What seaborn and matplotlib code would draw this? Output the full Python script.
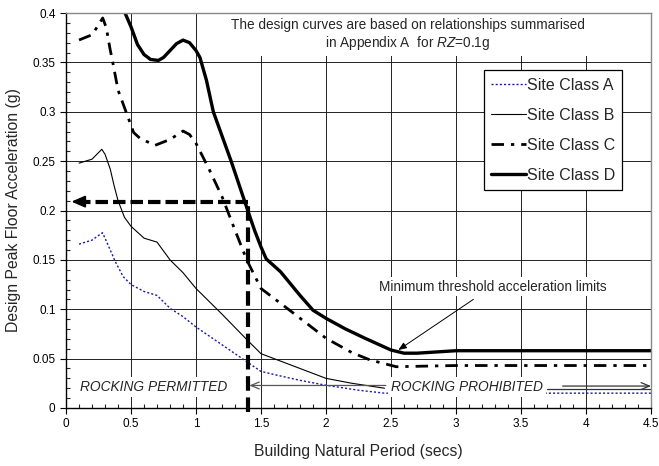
import matplotlib
matplotlib.use('Agg')
import matplotlib.pyplot as plt
from matplotlib.patches import Rectangle
from matplotlib.ticker import MultipleLocator
import seaborn as sns

# Site class design curves
period_A = [0.1, 0.2, 0.28, 0.3, 0.34, 0.38, 0.44, 0.5, 0.6, 0.7, 0.8, 0.9, 1.0, 1.2, 1.4, 1.5, 1.63, 1.8, 2.0, 2.25, 2.45, 3.0, 3.5, 4.0, 4.5]
accel_A = [0.166, 0.170, 0.1775, 0.172, 0.160, 0.148, 0.133, 0.125, 0.118, 0.114, 0.101, 0.0925, 0.082, 0.064, 0.046, 0.037, 0.033, 0.028, 0.023, 0.018, 0.015, 0.015, 0.015, 0.015, 0.015]

period_B = [0.1, 0.2, 0.275, 0.3, 0.34, 0.37, 0.4, 0.45, 0.5, 0.6, 0.7, 0.8, 0.9, 1.0, 1.2, 1.4, 1.5, 1.6, 1.8, 2.0, 2.2, 2.45]
accel_B = [0.248, 0.252, 0.262, 0.257, 0.242, 0.225, 0.210, 0.193, 0.184, 0.172, 0.168, 0.150, 0.137, 0.121, 0.095, 0.068, 0.055, 0.050, 0.040, 0.030, 0.025, 0.020]

period_C = [0.1, 0.2, 0.25, 0.282, 0.31, 0.338, 0.364, 0.4, 0.467, 0.52, 0.57, 0.685, 0.8, 0.9, 0.95, 1.0, 1.1, 1.2, 1.3, 1.39, 1.5, 1.6, 1.72, 2.0, 2.2, 2.34, 2.54, 2.8, 3.0, 4.5]
accel_C = [0.3727, 0.378, 0.388, 0.395, 0.385, 0.364, 0.347, 0.322, 0.298, 0.279, 0.273, 0.266, 0.272, 0.2805, 0.277, 0.268, 0.242, 0.214, 0.180, 0.150, 0.121, 0.111, 0.099, 0.0706, 0.056, 0.0486, 0.0418, 0.0425, 0.043, 0.043]

period_D = [0.454, 0.5, 0.55, 0.6, 0.65, 0.71, 0.75, 0.8, 0.85, 0.9, 0.95, 1.0, 1.03, 1.08, 1.133, 1.27, 1.38, 1.45, 1.5, 1.54, 1.65, 1.8, 1.9, 2.0, 2.15, 2.3, 2.5, 2.6, 2.7, 3.0, 4.5]
accel_D = [0.4, 0.386, 0.368, 0.358, 0.353, 0.352, 0.355, 0.362, 0.369, 0.3726, 0.370, 0.362, 0.355, 0.332, 0.300, 0.250, 0.207, 0.180, 0.163, 0.151, 0.138, 0.114, 0.099, 0.0908, 0.080, 0.0706, 0.0587, 0.0555, 0.0555, 0.058, 0.058]

# worked example: period 1.4 s -> 0.21 g
example_period = 1.4
example_accel = 0.209

x_ticks = [0, 0.5, 1, 1.5, 2, 2.5, 3, 3.5, 4, 4.5]
x_labels = ['0', '0.5', '1', '1.5', '2', '2.5', '3', '3.5', '4', '4.5']
y_ticks = [0, 0.05, 0.1, 0.15, 0.2, 0.25, 0.3, 0.35, 0.4]
y_labels = ['0', '0.05', '0.1', '0.15', '0.2', '0.25', '0.3', '0.35', '0.4']

sns.set_style('white')
plt.rcParams['font.family'] = ['Liberation Sans', 'DejaVu Sans']
plt.rcParams['mathtext.fontset'] = 'custom'
plt.rcParams['mathtext.rm'] = 'Liberation Sans'
plt.rcParams['mathtext.it'] = 'Liberation Sans:italic'

fig = plt.figure(figsize=(6.59, 4.66), dpi=100)
ax = fig.add_axes([0.1002, 0.1245, 0.8877, 0.8475])

sns.lineplot(x=period_A, y=accel_A, ax=ax, sort=False, color='#1a1aa8', lw=1.0,
             linestyle=(0, (1.5, 1.5)), label='Site Class A')
sns.lineplot(x=period_B, y=accel_B, ax=ax, sort=False, color='black', lw=0.8,
             label='Site Class B')
sns.lineplot(x=period_C, y=accel_C, ax=ax, sort=False, color='black', lw=2.0,
             linestyle=(0, (4.5, 2.5, 1.2, 2.5)), label='Site Class C')
sns.lineplot(x=period_D, y=accel_D, ax=ax, sort=False, color='black', lw=2.4,
             label='Site Class D')

# example lookup lines
ax.plot([example_period, example_period], [-0.004, example_accel], color='black', lw=3,
        linestyle=(0, (3.5, 1.6)), clip_on=False, zorder=4)
ax.plot([example_period, 0.1], [example_accel, example_accel], color='black', lw=3,
        linestyle=(0, (3.0, 1.2)), zorder=4)
ax.annotate('', xy=(0.02, example_accel), xytext=(0.16, example_accel),
            arrowprops=dict(arrowstyle='-|>,head_width=0.35,head_length=0.8', color='black', lw=1.5),
            zorder=4)

ax.set_xticks(x_ticks)
ax.set_xticklabels(x_labels)
ax.set_yticks(y_ticks)
ax.set_yticklabels(y_labels)
ax.xaxis.set_minor_locator(MultipleLocator(0.1))
ax.yaxis.set_minor_locator(MultipleLocator(0.01))
ax.set_xlim(0, 4.5)
ax.set_ylim(0, 0.4)
ax.tick_params(axis='both', which='major', direction='out', length=4, width=0.8, labelsize=8.5,
               colors='black', left=True, bottom=True)
ax.tick_params(axis='both', which='minor', direction='in', length=3, width=0.8,
               left=True, bottom=True)
ax.grid(True, which='major', color='#222222', lw=0.7)
ax.set_axisbelow(True)
for s in ['left', 'bottom']:
    ax.spines[s].set_color('black')
    ax.spines[s].set_linewidth(1.0)
for s in ['top', 'right']:
    ax.spines[s].set_color('#888888')
    ax.spines[s].set_linewidth(1.0)

ax.set_xlabel('Building Natural Period (secs)', fontsize=11.3, labelpad=10)
ax.set_ylabel('Design Peak Floor Acceleration (g)', fontsize=11.3, labelpad=8)

# note at top, on white to hide the grid
ax.add_patch(Rectangle((1.22, 0.357), 3.27, 0.042, fc='white', ec='none', zorder=1))
ax.text(2.63, 0.3775, 'The design curves are based on relationships summarised\n'
        'in Appendix A  for $\\mathit{RZ}$=0.1g', ha='center', va='center', fontsize=9.8,
        linespacing=1.15, zorder=3)

ax.annotate('Minimum threshold acceleration limits', xy=(2.556, 0.0587), xytext=(3.28, 0.123),
            ha='center', va='center', fontsize=9.8,
            bbox=dict(boxstyle='square,pad=0.2', fc='white', ec='none'),
            arrowprops=dict(arrowstyle='-|>,head_width=0.2,head_length=0.5', color='black', lw=0.7,
                            shrinkA=4, shrinkB=0), zorder=5)

txt_box = dict(boxstyle='square,pad=0.2', fc='white', ec='none')
ax.text(0.108, 0.0215, 'ROCKING PERMITTED', fontstyle='italic', fontsize=9.9, ha='left',
        va='center', bbox=txt_box, zorder=3)
ax.text(2.5, 0.0215, 'ROCKING PROHIBITED', fontstyle='italic', fontsize=9.9, ha='left',
        va='center', bbox=txt_box, zorder=3)
ax.annotate('', xy=(1.41, 0.0228), xytext=(2.46, 0.0228),
            arrowprops=dict(arrowstyle='->,head_width=0.25,head_length=0.6', color='#555555', lw=0.9,
                            shrinkA=0, shrinkB=0), zorder=3)
ax.annotate('', xy=(4.5, 0.0222), xytext=(3.82, 0.0222),
            arrowprops=dict(arrowstyle='->,head_width=0.25,head_length=0.6', color='#333333', lw=0.9,
                            shrinkA=0, shrinkB=0), zorder=3)
ax.plot([3.70, 4.49], [0.0195, 0.0195], color='#333333', lw=0.9, zorder=3)

leg = ax.legend(loc='upper right', bbox_to_anchor=(0.951, 0.855), fontsize=11.5, frameon=True,
                fancybox=False, edgecolor='black', framealpha=1, handlelength=2.2,
                handletextpad=0.05, labelspacing=0.95, borderpad=0.45, borderaxespad=0)
leg.get_frame().set_linewidth(0.9)

fig.savefig('out.png', dpi=100)
